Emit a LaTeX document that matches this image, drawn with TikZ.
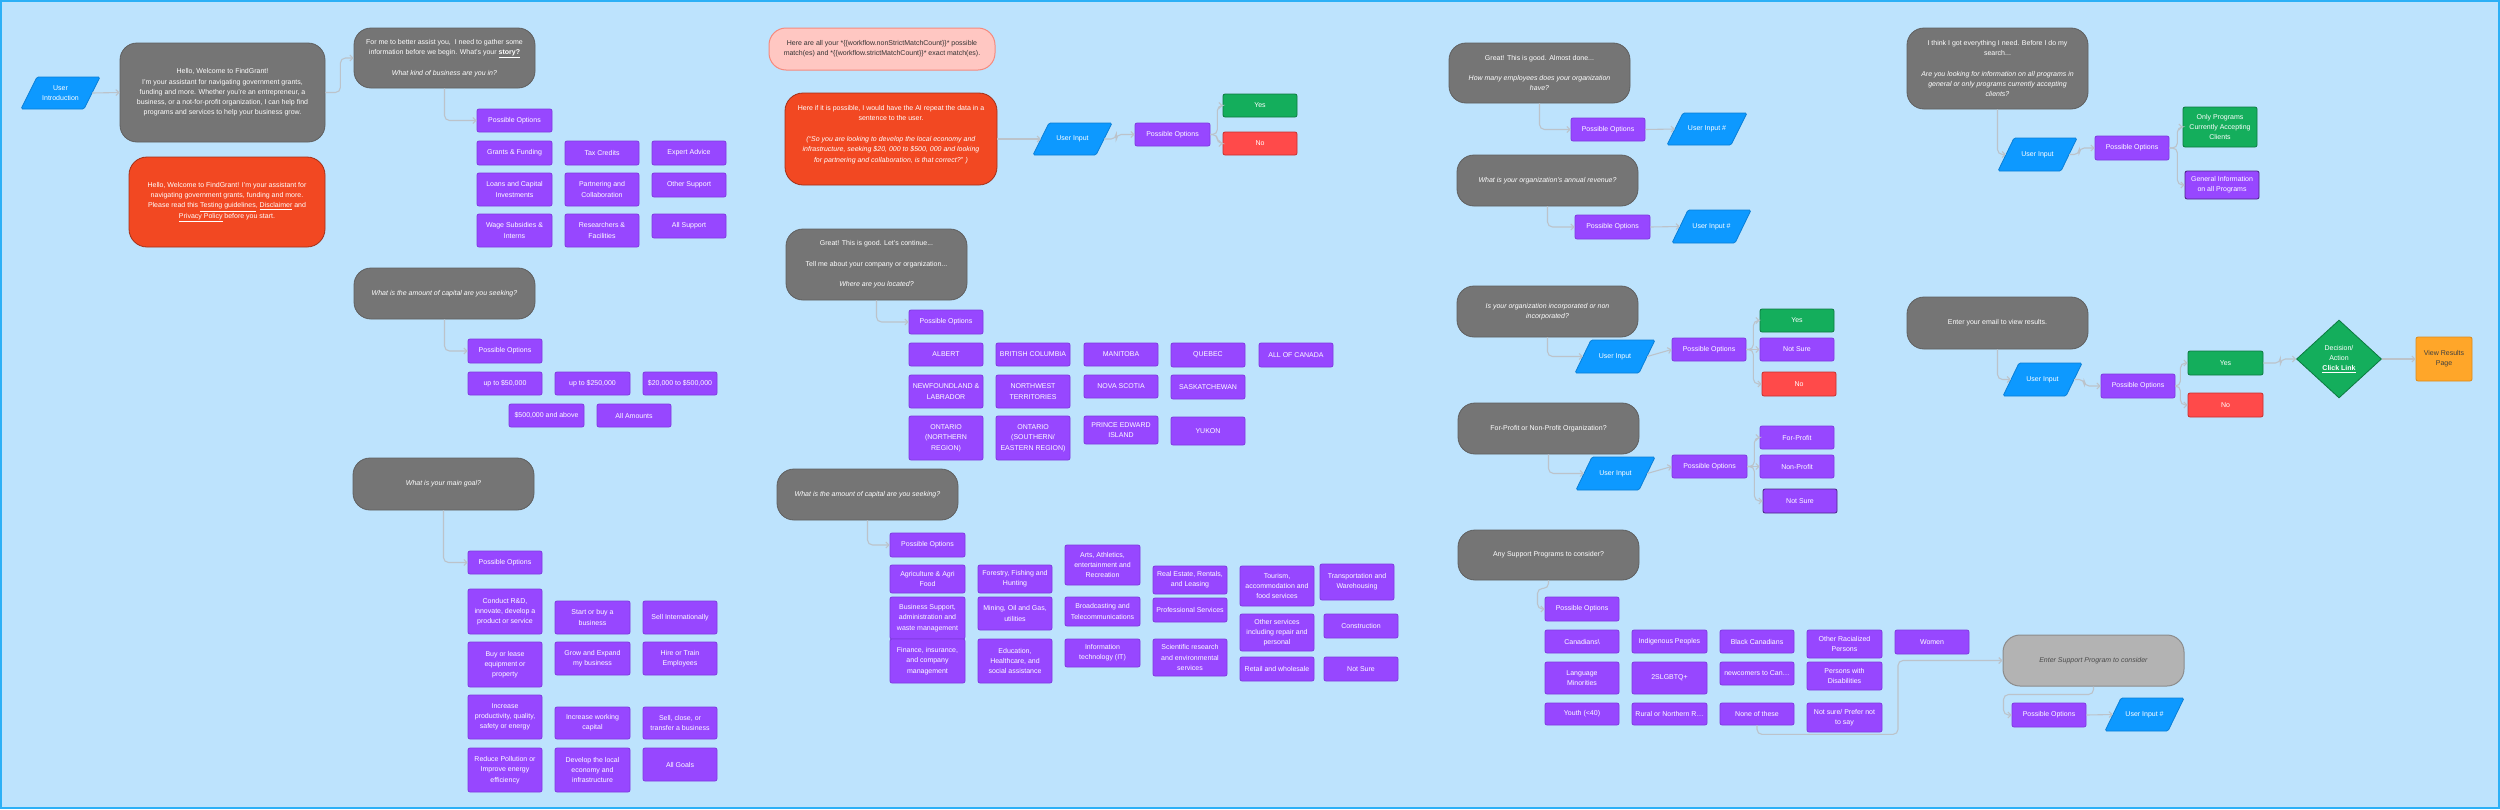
\documentclass[tikz,border=0pt]{standalone}
\usepackage{fontspec}
\setmainfont{Liberation Sans}
\usetikzlibrary{shapes.geometric,arrows.meta}
\definecolor{bg}{HTML}{BDE3FD}
\definecolor{frameclr}{HTML}{2CB0F6}
\definecolor{gfill}{HTML}{757575}
\definecolor{gline}{HTML}{5F5F5F}
\definecolor{pfill}{HTML}{9747FF}
\definecolor{pline}{HTML}{7E3BE0}
\definecolor{ufill}{HTML}{0D99FF}
\definecolor{uline}{HTML}{0A7FD6}
\definecolor{grfill}{HTML}{14AE5C}
\definecolor{grline}{HTML}{0D7A40}
\definecolor{rfill}{HTML}{FF4A4A}
\definecolor{rline}{HTML}{C7302E}
\definecolor{ofill}{HTML}{F24822}
\definecolor{oline}{HTML}{A33018}
\definecolor{pkfill}{HTML}{FFC7C2}
\definecolor{pkline}{HTML}{F58A7E}
\definecolor{yfill}{HTML}{FFA629}
\definecolor{yline}{HTML}{DB8A1C}
\definecolor{lgfill}{HTML}{B3B3B3}
\definecolor{lgline}{HTML}{8C8C8C}
\definecolor{connclr}{HTML}{BCC3CA}
\tikzset{
 txt/.style={font=\fontsize{7}{10.3}\selectfont, align=center, inner sep=1pt, text=white},
 gbox/.style={txt, draw=gline, fill=gfill, rounded corners=17, line width=0.8},
 obox/.style={txt, draw=oline, fill=ofill, rounded corners=18, line width=0.8},
 pkbox/.style={txt, text=black!80, draw=pkline, fill=pkfill, rounded corners=17, line width=1},
 lgbox/.style={txt, text=black!70, draw=lgline, fill=lgfill, rounded corners=17, line width=1},
 pbox/.style={txt, draw=pline, fill=pfill, rounded corners=2, line width=0.8},
 pdbox/.style={pbox, draw=pline!60!black},
 grbox/.style={txt, draw=grline, fill=grfill, rounded corners=2, line width=0.8},
 rbox/.style={txt, draw=rline, fill=rfill, rounded corners=2, line width=0.8},
 ybox/.style={txt, text=black!75, draw=yline, fill=yfill, rounded corners=2, line width=0.8},
 ushape/.style={draw=uline, fill=ufill, line width=0.8, rounded corners=1.5},
 utxt/.style={txt},
 arr/.style={draw=connclr, line width=1.1, rounded corners=5, -{Straight Barb[length=3pt,width=6pt]}},
}
% style, name, x1, y1, x2, y2, text
\newcommand\mybox[7]{\node[#1, minimum width={#5-#3}, minimum height={#6-#4}] (#2) at ({(#3+#5)/2},{(#4+#6)/2}) {#7};}
% name, x1, y1, x2, y2, text
\newcommand\mypara[6]{%
 \draw[ushape] (#2,#5) -- ({#2+16},#3) -- (#4,#3) -- ({#4-16},#5) -- cycle;
 \node[utxt, minimum width={#4-#2-16}, minimum height={#5-#3}] (#1) at ({(#2+#4)/2},{(#3+#5)/2}) {#6};}
\begin{document}
\begin{tikzpicture}[x=1pt,y=-1pt]
\useasboundingbox (0,0) rectangle (2500,809);
\fill[bg] (0,0) rectangle (2500,809);
\draw[frameclr, line width=2] (1,1) rectangle (2499,808);

% ---------- left column ----------
\mypara{ui0}{21}{77}{100}{109}{User\\Introduction}
\mybox{gbox}{welcome}{120}{43}{325}{142}{Hello, Welcome to FindGrant!\\I'm your assistant for navigating government grants,\\funding and more. Whether you're an entrepreneur, a\\business, or a not-for-profit organization, I can help find\\programs and services to help your business grow.}
\mybox{obox}{note1}{129}{157}{325}{247}{Hello, Welcome to FindGrant! I'm your assistant for\\navigating government grants, funding and more.\\Please read this \underline{Testing guidelines}, \underline{Disclaimer} and\\\underline{Privacy Policy} before you start.}
\mybox{gbox}{story}{354}{28}{535}{88}{For me to better assist you,\ \ I need to gather some\\information before we begin. What's your \textbf{\underline{story?}}\\[10.3pt]\textit{What kind of business are you in?}}
\mybox{pbox}{po1}{477}{109}{552}{132}{Possible Options}
\mybox{pbox}{b11}{477}{141}{552}{165}{Grants \& Funding}
\mybox{pbox}{b12}{565}{141}{639}{165}{Tax Credits}
\mybox{pbox}{b13}{652}{141}{726}{165}{Expert Advice}
\mybox{pbox}{b14}{477}{173}{552}{206}{Loans and Capital\\Investments}
\mybox{pbox}{b15}{565}{173}{639}{206}{Partnering and\\Collaboration}
\mybox{pbox}{b16}{652}{173}{726}{197}{Other Support}
\mybox{pbox}{b17}{477}{214}{552}{247}{Wage Subsidies \&\\Interns}
\mybox{pbox}{b18}{565}{214}{639}{247}{Researchers \&\\Facilities}
\mybox{pbox}{b19}{652}{214}{726}{238}{All Support}

\mybox{gbox}{cap1}{354}{268}{535}{319}{\textit{What is the amount of capital are you seeking?}}
\mybox{pbox}{po2}{468}{339}{542}{363}{Possible Options}
\mybox{pbox}{c1}{468}{372}{542}{395}{up to \$50,000}
\mybox{pbox}{c2}{555}{372}{630}{395}{up to \$250,000}
\mybox{pbox}{c3}{643}{372}{717}{395}{\$20,000 to \$500,000}
\mybox{pbox}{c4}{509}{404}{584}{427}{\$500,000 and above}
\mybox{pbox}{c5}{597}{404}{671}{427}{All Amounts}

\mybox{gbox}{goal}{353}{458}{534}{510}{\textit{What is your main goal?}}
\mybox{pbox}{po3}{468}{551}{542}{574}{Possible Options}
\mybox{pbox}{g1}{468}{589}{542}{634}{Conduct R\&D,\\innovate, develop a\\product or service}
\mybox{pbox}{g2}{555}{601}{630}{634}{Start or buy a\\business}
\mybox{pbox}{g3}{643}{601}{717}{634}{Sell Internationally}
\mybox{pbox}{g4}{468}{642}{542}{687}{Buy or lease\\equipment or\\property}
\mybox{pbox}{g5}{555}{642}{630}{675}{Grow and Expand\\my business}
\mybox{pbox}{g6}{643}{642}{717}{675}{Hire or Train\\Employees}
\mybox{pbox}{g7}{468}{695}{542}{739}{Increase\\productivity, quality,\\safety or energy}
\mybox{pbox}{g8}{555}{707}{630}{739}{Increase working\\capital}
\mybox{pbox}{g9}{643}{707}{717}{739}{Sell, close, or\\transfer a business}
\mybox{pbox}{g10}{468}{748}{542}{792}{Reduce Pollution or\\Improve energy\\efficiency}
\mybox{pbox}{g11}{555}{748}{630}{792}{Develop the local\\economy and\\infrastructure}
\mybox{pbox}{g12}{643}{748}{717}{781}{All Goals}

% ---------- middle column ----------
\mybox{pkbox}{pink}{769}{28}{995}{70}{Here are all your *\{\{workflow.nonStrictMatchCount\}\}* possible\\match(es) and *\{\{workflow.strictMatchCount\}\}* exact match(es).}
\mybox{obox}{note2}{785}{93}{997}{185}{Here if it is possible, I would have the AI repeat the data in a\\sentence to the user.\\[10.3pt]\textit{(“So you are looking to develop the local economy and}\\\textit{infrastructure, seeking \$20, 000 to \$500, 000 and looking}\\\textit{for partnering and collaboration, is that correct?” )}\\\mbox{}}
\mypara{ui1}{1033}{123}{1112}{155}{User Input}
\mybox{pbox}{po4}{1135}{123}{1210}{146}{Possible Options}
\mybox{grbox}{yes1}{1223}{94}{1297}{117}{Yes}
\mybox{rbox}{no1}{1223}{132}{1297}{155}{No}

\mybox{gbox}{loc}{786}{229}{967}{300}{Great! This is good. Let's continue...\\[10.3pt]Tell me about your company or organization...\\[10.3pt]\textit{Where are you located?}}
\mybox{pbox}{po5}{909}{310}{983}{334}{Possible Options}
\mybox{pbox}{l1}{909}{343}{983}{366}{ALBERT}
\mybox{pbox}{l2}{996}{343}{1070}{366}{BRITISH COLUMBIA}
\mybox{pbox}{l3}{1084}{343}{1158}{366}{MANITOBA}
\mybox{pbox}{l4}{1171}{343}{1245}{367}{QUEBEC}
\mybox{pbox}{l5}{1259}{343}{1333}{367}{ALL OF CANADA}
\mybox{pbox}{l6}{909}{375}{983}{408}{NEWFOUNDLAND \&\\LABRADOR}
\mybox{pbox}{l7}{996}{375}{1070}{408}{NORTHWEST\\TERRITORIES}
\mybox{pbox}{l8}{1084}{375}{1158}{398}{NOVA SCOTIA}
\mybox{pbox}{l9}{1171}{375}{1245}{399}{SASKATCHEWAN}
\mybox{pbox}{l10}{909}{416}{983}{460}{ONTARIO\\(NORTHERN\\REGION)}
\mybox{pbox}{l11}{996}{416}{1070}{460}{ONTARIO\\(SOUTHERN/\\EASTERN REGION)}
\mybox{pbox}{l12}{1084}{416}{1158}{444}{PRINCE EDWARD\\ISLAND}
\mybox{pbox}{l13}{1171}{417}{1245}{445}{YUKON}

\mybox{gbox}{cap2}{777}{469}{958}{520}{\textit{What is the amount of capital are you seeking?}}
\mybox{pbox}{po6}{890}{533}{965}{557}{Possible Options}
\mybox{pbox}{i1}{890}{565}{965}{593}{Agriculture \& Agri\\Food}
\mybox{pbox}{i2}{890}{597}{965}{639}{Business Support,\\administration and\\waste management}
\mybox{pbox}{i3}{890}{639}{965}{683}{Finance, insurance,\\and company\\management}
\mybox{pbox}{i4}{978}{565}{1052}{593}{Forestry, Fishing and\\Hunting}
\mybox{pbox}{i5}{978}{597}{1052}{630}{Mining, Oil and Gas,\\utilities}
\mybox{pbox}{i6}{978}{639}{1052}{683}{Education,\\Healthcare, and\\social assistance}
\mybox{pbox}{i7}{1065}{545}{1140}{585}{Arts, Athletics,\\entertainment and\\Recreation}
\mybox{pbox}{i8}{1065}{597}{1140}{626}{Broadcasting and\\Telecommunications}
\mybox{pbox}{i9}{1065}{639}{1140}{667}{Information\\technology (IT)}
\mybox{pbox}{i10}{1153}{566}{1227}{594}{Real Estate, Rentals,\\and Leasing}
\mybox{pbox}{i11}{1153}{598}{1227}{622}{Professional Services}
\mybox{pbox}{i12}{1153}{639}{1227}{676}{Scientific research\\and environmental\\services}
\mybox{pbox}{i13}{1240}{566}{1314}{606}{Tourism,\\accommodation and\\food services}
\mybox{pbox}{i14}{1240}{614}{1314}{651}{Other services\\including repair and\\personal}
\mybox{pbox}{i15}{1240}{657}{1314}{681}{Retail and wholesale}
\mybox{pbox}{i16}{1320}{564}{1394}{600}{Transportation and\\Warehousing}
\mybox{pbox}{i17}{1324}{614}{1398}{638}{Construction}
\mybox{pbox}{i18}{1324}{657}{1398}{681}{Not Sure}

% ---------- right part ----------
\mybox{gbox}{emp}{1449}{43}{1630}{103}{Great! This is good. Almost done...\\[10.3pt]\textit{How many employees does your organization}\\\textit{have?}}
\mybox{pbox}{po7}{1571}{118}{1645}{141}{Possible Options}
\mypara{ui2}{1667}{113}{1747}{145}{User Input \#}

\mybox{gbox}{rev}{1457}{155}{1638}{206}{\textit{What is your organization's annual revenue?}}
\mybox{pbox}{po8}{1575}{215}{1650}{239}{Possible Options}
\mypara{ui3}{1672}{210}{1751}{243}{User Input \#}

\mybox{gbox}{inc}{1457}{286}{1638}{337}{\textit{Is your organization incorporated or non}\\\textit{incorporated?}}
\mypara{ui4}{1575}{340}{1655}{373}{User Input}
\mybox{pbox}{po9}{1672}{338}{1746}{361}{Possible Options}
\mybox{grbox}{yes2}{1760}{309}{1834}{332}{Yes}
\mybox{pbox}{ns1}{1760}{338}{1834}{361}{Not Sure}
\mybox{rbox}{no2}{1762}{372}{1836}{396}{No}

\mybox{gbox}{fp}{1458}{403}{1639}{454}{For-Profit or Non-Profit Organization?}
\mypara{ui5}{1576}{457}{1655}{490}{User Input}
\mybox{pbox}{po10}{1672}{455}{1747}{478}{Possible Options}
\mybox{pbox}{fp1}{1760}{426}{1834}{449}{For-Profit}
\mybox{pbox}{fp2}{1760}{455}{1834}{478}{Non-Profit}
\mybox{pdbox}{fp3}{1763}{489}{1837}{513}{Not Sure}

\mybox{gbox}{sp}{1458}{530}{1639}{580}{Any Support Programs to consider?}
\mybox{pbox}{po11}{1545}{597}{1619}{621}{Possible Options}
\mybox{pbox}{s1}{1545}{630}{1619}{653}{Canadians\textbackslash}
\mybox{pbox}{s2}{1632}{630}{1707}{653}{Indigenous Peoples}
\mybox{pbox}{s3}{1720}{630}{1794}{653}{Black Canadians}
\mybox{pbox}{s4}{1807}{630}{1882}{658}{Other Racialized\\Persons}
\mybox{pbox}{s5}{1895}{630}{1969}{654}{Women}
\mybox{pbox}{s6}{1545}{662}{1619}{694}{Language\\Minorities}
\mybox{pbox}{s7}{1632}{662}{1707}{694}{2SLGBTQ+}
\mybox{pbox}{s8}{1720}{662}{1794}{685}{newcomers to Can…}
\mybox{pbox}{s9}{1807}{662}{1882}{690}{Persons with\\Disabilities}
\mybox{pbox}{s10}{1545}{703}{1619}{725}{Youth (<40)}
\mybox{pbox}{s11}{1632}{703}{1707}{725}{Rural or Northern R…}
\mybox{pbox}{s12}{1720}{703}{1794}{725}{None of these}
\mybox{pbox}{s13}{1807}{703}{1882}{732}{Not sure/ Prefer not\\to say}

\mybox{lgbox}{esp}{2003}{635}{2184}{686}{\textit{Enter Support Program to consider}}
\mybox{pbox}{po12}{2012}{703}{2086}{727}{Possible Options}
\mypara{ui6}{2105}{698}{2184}{731}{User Input \#}

\mybox{gbox}{think}{1907}{28}{2088}{109}{I think I got everything I need. Before I do my\\search...\\[10.3pt]\textit{Are you looking for information on all programs in}\\\textit{general or only programs currently accepting}\\\textit{clients?}}
\mypara{ui7}{1998}{138}{2077}{171}{User Input}
\mybox{pbox}{po13}{2095}{136}{2169}{160}{Possible Options}
\mybox{grbox}{only}{2183}{107}{2257}{147}{Only Programs\\Currently Accepting\\Clients}
\mybox{pdbox}{gen}{2185}{171}{2259}{199}{General Information\\on all Programs}

\mybox{gbox}{email}{1907}{297}{2088}{349}{Enter your email to view results.}
\mypara{ui8}{2003}{363}{2082}{396}{User Input}
\mybox{pbox}{po14}{2101}{374}{2175}{398}{Possible Options}
\mybox{grbox}{yes3}{2188}{351}{2263}{375}{Yes}
\mybox{rbox}{no3}{2188}{393}{2263}{417}{No}
\node[txt, diamond, aspect=1.09, inner sep=0pt, draw=grline, fill=grfill, line width=0.8, minimum width=85, minimum height=78] (dia) at (2339,359) {Decision/\\Action\\\textbf{\underline{Click Link}}};
\mybox{ybox}{view}{2416}{337}{2472}{381}{View Results\\Page}

% ---------- connectors ----------
\draw[arr] (ui0.east) -- (welcome.west);
\draw[arr] (welcome.east) -- ++(15,0) |- (story.west);
\draw[arr] (story.south) |- (po1.west);
\draw[arr] (cap1.south) |- (po2.west);
\draw[arr] (goal.south) |- (po3.west);
\draw[arr] (note2.east) -- (ui1.west);
\draw[arr] (ui1.east) -- ++(12,0) |- (po4.west);
\draw[arr] (po4.east) -- ++(7,0) |- (yes1.west);
\draw[arr] (po4.east) -- ++(7,0) |- (no1.west);
\draw[arr] (loc.south) |- (po5.west);
\draw[arr] (cap2.south) |- (po6.west);
\draw[arr] (emp.south) |- (po7.west);
\draw[arr] (po7.east) -- (ui2.west);
\draw[arr] (rev.south) |- (po8.west);
\draw[arr] (po8.east) -- (ui3.west);
\draw[arr] (inc.south) |- (ui4.west);
\draw[arr] (ui4.east) -- (po9.west);
\draw[arr] (po9.east) -- ++(7,0) |- (yes2.west);
\draw[arr] (po9.east) -- (ns1.west);
\draw[arr] (po9.east) -- ++(7,0) |- (no2.west);
\draw[arr] (fp.south) |- (ui5.west);
\draw[arr] (ui5.east) -- (po10.west);
\draw[arr] (po10.east) -- ++(7,0) |- (fp1.west);
\draw[arr] (po10.east) -- (fp2.west);
\draw[arr] (po10.east) -- ++(7,0) |- (fp3.west);
\draw[arr] (sp.south) -- ++(0,8) -- ++(-11,0) |- (po11.west);
\draw[arr] (s12.south) -- ++(0,9) -- ++(141,0) |- (esp.west);
\draw[arr] (esp.south) -- ++(0,8) -- ++(-90,0) |- (po12.west);
\draw[arr] (po12.east) -- (ui6.west);
\draw[arr] (think.south) |- (ui7.west);
\draw[arr] (ui7.east) -- ++(10,0) |- (po13.west);
\draw[arr] (po13.east) -- ++(8,0) |- (only.west);
\draw[arr] (po13.east) -- ++(8,0) |- (gen.west);
\draw[arr] (email.south) |- (ui8.west);
\draw[arr] (ui8.east) -- ++(10,0) |- (po14.west);
\draw[arr] (po14.east) -- ++(5,0) |- (yes3.west);
\draw[arr] (po14.east) -- ++(5,0) |- (no3.west);
\draw[arr] (yes3.east) -- ++(17,0) |- (dia.west);
\draw[arr] (dia.east) -- (view.west);
\end{tikzpicture}
\end{document}
